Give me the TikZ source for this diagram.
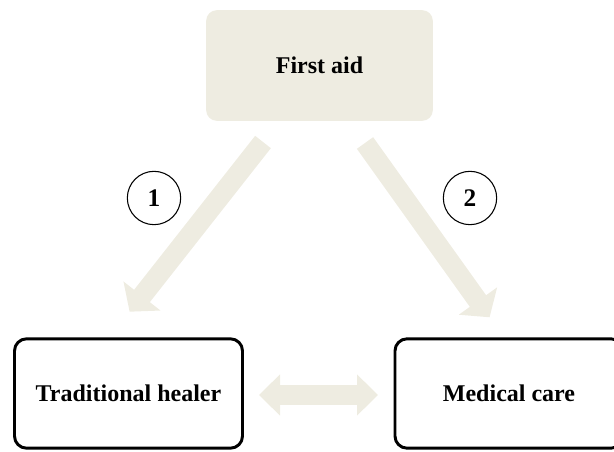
\documentclass[tikz,border=0pt]{standalone}
\usepackage{fontspec}
\setmainfont{Liberation Serif}
\usetikzlibrary{arrows.meta,positioning}
\definecolor{aidtan}{RGB}{238,236,225}
\tikzset{
  aidbox/.style={fill=aidtan, rounded corners=8pt, align=center,
    font=\bfseries\fontsize{18}{21}\selectfont, minimum width=170pt, minimum height=83pt},
  careblock/.style={draw, line width=2.2pt, rounded corners=9pt, align=center, fill=white,
    font=\bfseries\fontsize{18}{21}\selectfont, minimum width=171pt, minimum height=82pt},
  numcircle/.style={circle, draw, line width=0.8pt, minimum size=40pt, inner sep=0pt,
    font=\bfseries\fontsize{19}{21}\selectfont},
  fatarrow/.style={draw=aidtan, line width=15pt, -{Triangle[length=15pt, width=34.5pt]}},
  twoway/.style={draw=aidtan, line width=15pt,
    {Triangle[length=15.75pt, width=30pt]}-{Triangle[length=15.75pt, width=30pt]}},
}

\begin{document}
\begin{tikzpicture}[x=0.75pt, y=-0.75pt]
  \useasboundingbox (0,0) rectangle (614,452);
  \node[aidbox] (aid) at (319.5,65.5) {First aid};
  \node[careblock] (healer) at (128.5,393.5) {Traditional healer};
  \node[careblock] (medical) at (509,393.5) {Medical care};
  \node[numcircle] (one) at (154,198) {1};
  \node[numcircle] (two) at (470,198) {2};
  \coordinate (ls) at (263,142);
  \coordinate (lt) at (129.6,311.7);
  \coordinate (rs) at (365,143);
  \coordinate (rt) at (489.6,317.3);
  \coordinate (hl) at (259,395);
  \coordinate (hr) at (378,395);
  \draw[fatarrow] (ls) -- (lt);
  \draw[fatarrow] (rs) -- (rt);
  \draw[twoway] (hl) -- (hr);
\end{tikzpicture}
\end{document}
